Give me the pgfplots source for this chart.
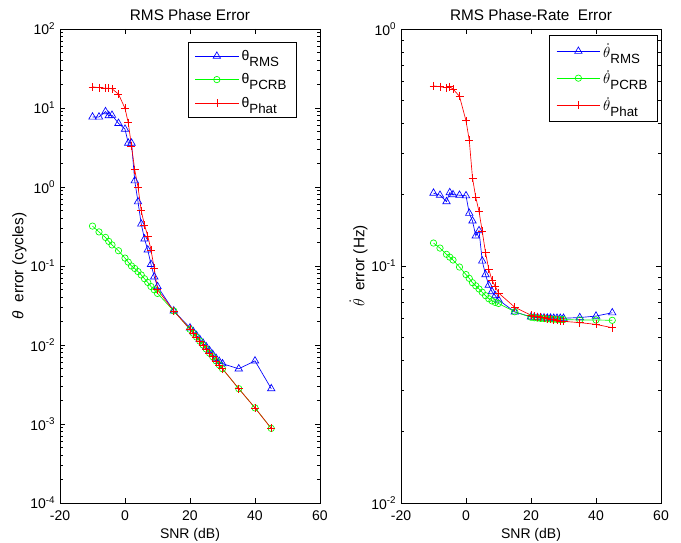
\documentclass[border=0pt]{standalone}
\usepackage{pgfplots}
\usepackage{pgfplotstable}
\pgfplotsset{compat=1.18}
\usepackage{fontspec}
\setmainfont{Liberation Sans}

% phase error (cycles)
\pgfplotstableread{
snr rms pcrb phat
-10 7.7 0.32 18.5
-8 7.7 0.27 18.1
-6 9.0 0.23 17.8
-5 8.0 0.205 17.8
-4 8.1 0.185 17.5
-2 6.4 0.156 15.0
0 5.4 0.126 9.9
1 3.6 0.112 6.5
2 3.6 0.100 3.3
3 1.2 0.093 1.65
4 0.65 0.085 1.0
5 0.34 0.077 0.50
6 0.22 0.069 0.33
7 0.16 0.062 0.24
8 0.105 0.055 0.16
9 0.073 0.050 0.093
10 0.055 0.045 0.050
15 0.027 0.027 0.027
20 0.0165 0.0158 0.0158
21 0.0148 0.0141 0.0141
22 0.0132 0.0126 0.0126
23 0.0118 0.0112 0.0112
24 0.0106 0.0100 0.0100
25 0.0095 0.0089 0.0089
26 0.0085 0.0079 0.0079
27 0.0076 0.0071 0.0071
28 0.0068 0.0063 0.0063
29 0.0062 0.0056 0.0056
30 0.0058 0.0050 0.0050
35 0.0050 0.0028 0.0028
40 0.0063 0.0016 0.0016
45 0.0028 0.00088 0.00088
}\phaseerr

% phase-rate error (Hz)
\pgfplotstableread{
snr rms pcrb phat
-10 0.203 0.125 0.575
-8 0.199 0.119 0.571
-6 0.187 0.112 0.565
-5 0.204 0.109 0.571
-4 0.200 0.106 0.558
-2 0.199 0.099 0.52
0 0.198 0.092 0.41
1 0.167 0.0887 0.34
2 0.155 0.085 0.235
3 0.134 0.0825 0.195
4 0.141 0.080 0.17
5 0.105 0.0775 0.14
6 0.092 0.075 0.114
7 0.083 0.0728 0.097
8 0.078 0.0712 0.087
9 0.075 0.0702 0.082
10 0.072 0.0695 0.077
15 0.064 0.0641 0.067
20 0.061 0.0608 0.062
21 0.0608 0.0605 0.0615
22 0.0606 0.0603 0.0612
23 0.0605 0.0601 0.061
24 0.0604 0.0600 0.0605
25 0.0603 0.0598 0.0600
26 0.0603 0.0597 0.0597
27 0.0602 0.0596 0.0594
28 0.0602 0.0595 0.0590
29 0.0602 0.0594 0.0587
30 0.0602 0.0594 0.0584
35 0.0606 0.0592 0.0577
40 0.0615 0.0592 0.0567
45 0.0635 0.0590 0.0549
}\rateerr

\tikzset{
  prms/.style={color=blue, line width=0.5pt, mark=triangle, mark size=3.2pt},
  ppcrb/.style={color=green, line width=0.5pt, mark=o, mark size=2.4pt},
  pphat/.style={color=red, line width=0.5pt, mark=+, mark size=3pt},
}
\pgfplotsset{
  legimg/.style={legend image code/.code={%
    \draw[draw=#1, line width=0.5pt] (0cm,0cm) -- (1.15cm,0cm);
    \draw[draw=#1] plot coordinates {(0.575cm,0cm)};}},
}
\newcommand{\fs}{\fontsize{10.5}{12.5}\selectfont}
\newcommand{\sub}[1]{\raisebox{-4.5pt}{\fontsize{10}{12}\selectfont #1}}

\begin{document}
\begin{tikzpicture}
\useasboundingbox (0,0) rectangle (510.75pt,406.5pt);
\begin{axis}[
  at={(45pt,29.25pt)}, anchor=south west,
  scale only axis, width=195pt, height=355.5pt,
  xmin=-20, xmax=60, xtick={-20,0,20,40,60},
  xticklabels={-20,0,20,40,60},
  ymode=log,
  ymin=1e-4, ymax=1e2,
  ytick={1e-4,1e-3,1e-2,1e-1,1,10,100},
  yticklabels={10\textsuperscript{-4},10\textsuperscript{-3},10\textsuperscript{-2},10\textsuperscript{-1},10\textsuperscript{0},10\textsuperscript{1},10\textsuperscript{2}},
  minor ytick={2e-4,3e-4,4e-4,5e-4,6e-4,7e-4,8e-4,9e-4,
    2e-3,3e-3,4e-3,5e-3,6e-3,7e-3,8e-3,9e-3,
    2e-2,3e-2,4e-2,5e-2,6e-2,7e-2,8e-2,9e-2,
    0.2,0.3,0.4,0.5,0.6,0.7,0.8,0.9,2,3,4,5,6,7,8,9,
    20,30,40,50,60,70,80,90},
  tick label style={font=\fs},
  xticklabel style={yshift=-2pt},
  label style={font=\fontsize{11.5}{13}\selectfont},
  xlabel style={font=\fs, yshift=1pt},
  title style={font=\fontsize{11.5}{13}\selectfont, yshift=-3pt},
  ylabel style={yshift=-4pt},
  axis line style={line width=0.6pt},
  tick style={black, line width=0.5pt},
  major tick length=4pt, minor tick length=2.2pt,
  title={RMS Phase Error},
  xlabel={SNR (dB)},
  ylabel={\textit{θ}\ \ error (cycles)},
  legend cell align=left,
  legend style={at={(0.908,0.973)}, anchor=north east,
    font=\fs, row sep=4.5pt, inner xsep=5pt, inner ysep=4pt},
]
\addplot[prms, legimg=blue] table[x=snr, y=rms] {\phaseerr};
\addplot[ppcrb, legimg=green] table[x=snr, y=pcrb] {\phaseerr};
\addplot[pphat, legimg=red] table[x=snr, y=phat] {\phaseerr};
\legend{θ\sub{RMS}, θ\sub{PCRB}, θ\sub{Phat}}
\end{axis}

\begin{axis}[
  at={(300.75pt,29.25pt)}, anchor=south west,
  scale only axis, width=195pt, height=355.5pt,
  xmin=-20, xmax=60, xtick={-20,0,20,40,60},
  xticklabels={-20,0,20,40,60},
  ymode=log,
  ymin=1e-2, ymax=1,
  ytick={1e-2,1e-1,1},
  yticklabels={10\textsuperscript{-2},10\textsuperscript{-1},10\textsuperscript{0}},
  minor ytick={2e-2,3e-2,4e-2,5e-2,6e-2,7e-2,8e-2,9e-2,
    0.2,0.3,0.4,0.5,0.6,0.7,0.8,0.9},
  tick label style={font=\fs},
  xticklabel style={yshift=-2pt},
  label style={font=\fontsize{11.5}{13}\selectfont},
  xlabel style={font=\fs, yshift=1pt},
  title style={font=\fontsize{11.5}{13}\selectfont, yshift=-3pt},
  ylabel style={yshift=-4pt},
  axis line style={line width=0.6pt},
  tick style={black, line width=0.5pt},
  major tick length=4pt, minor tick length=2.2pt,
  title={RMS Phase-Rate\ \ Error},
  xlabel={SNR (dB)},
  ylabel={$\dot{\theta}$\ \ error (Hz)},
  legend cell align=left,
  legend style={at={(0.985,0.987)}, anchor=north east,
    font=\fs, row sep=4.5pt, inner xsep=5pt, inner ysep=4pt},
]
\addplot[prms, legimg=blue] table[x=snr, y=rms] {\rateerr};
\addplot[ppcrb, legimg=green] table[x=snr, y=pcrb] {\rateerr};
\addplot[pphat, legimg=red] table[x=snr, y=phat] {\rateerr};
\legend{$\dot{\theta}$\sub{RMS}, $\dot{\theta}$\sub{PCRB}, $\dot{\theta}$\sub{Phat}}
\end{axis}
\end{tikzpicture}
\end{document}
